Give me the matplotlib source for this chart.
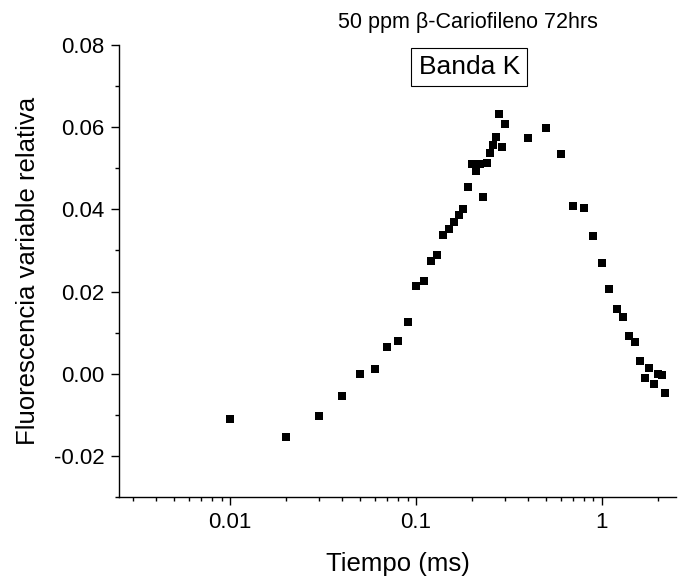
import numpy as np
import matplotlib
matplotlib.use('Agg')
import matplotlib.pyplot as plt
from matplotlib.ticker import FuncFormatter, MultipleLocator, LogLocator

plt.rcParams['font.family'] = ['Liberation Sans', 'DejaVu Sans']

# time (ms) and relative variable fluorescence (K band)
tiempo = [0.01, 0.02, 0.03, 0.04, 0.05, 0.06, 0.07, 0.08, 0.09,
          0.10, 0.11, 0.12, 0.13, 0.14, 0.15, 0.16, 0.17, 0.18, 0.19,
          0.20, 0.21, 0.22, 0.23, 0.24, 0.25, 0.26, 0.27, 0.28, 0.29,
          0.30, 0.40, 0.50, 0.60, 0.70, 0.80, 0.90,
          1.0, 1.1, 1.2, 1.3, 1.4, 1.5, 1.6, 1.7, 1.8, 1.9, 2.0, 2.1, 2.2]
fluor = [-0.0109, -0.0153, -0.0103, -0.0054, 0.0000, 0.0012, 0.0066, 0.0079, 0.0125,
         0.0213, 0.0225, 0.0275, 0.0289, 0.0338, 0.0353, 0.0370, 0.0386, 0.0402, 0.0455,
         0.0510, 0.0493, 0.0510, 0.0430, 0.0514, 0.0537, 0.0556, 0.0576, 0.0632, 0.0553,
         0.0608, 0.0573, 0.0597, 0.0534, 0.0409, 0.0404, 0.0336,
         0.0270, 0.0207, 0.0157, 0.0139, 0.0091, 0.0077, 0.0032, -0.0011, 0.0014,
         -0.0026, -0.0001, -0.0003, -0.0048]

y_ticks = [-0.02, 0.00, 0.02, 0.04, 0.06, 0.08]
x_ticks = [0.01, 0.1, 1]

fig = plt.figure(figsize=(6.86, 5.8), dpi=100)
ax = fig.add_axes([0.1735, 0.1431, 0.812, 0.7793])

ax.plot(tiempo, fluor, linestyle='none', marker='s', markersize=6,
        color='black', markeredgewidth=0)

ax.set_xscale('log')
ax.set_xlim(0.00252, 2.51)
ax.set_ylim(-0.03, 0.08)

ax.set_xticks(x_ticks)
ax.xaxis.set_minor_locator(LogLocator(base=10, subs=np.arange(2, 10)))
ax.xaxis.set_major_formatter(FuncFormatter(lambda v, p: '%g' % v))
ax.xaxis.set_minor_formatter(FuncFormatter(lambda v, p: ''))

ax.set_yticks(y_ticks)
ax.yaxis.set_minor_locator(MultipleLocator(0.01))
ax.yaxis.set_major_formatter(FuncFormatter(lambda v, p: '%.2f' % v))

for s in ['top', 'right']:
    ax.spines[s].set_visible(False)
for s in ['left', 'bottom']:
    ax.spines[s].set_linewidth(1.0)

ax.tick_params(axis='both', which='major', direction='out', length=5.5,
               width=1.0, labelsize=16, pad=5)
ax.tick_params(axis='both', which='minor', direction='out', length=3.2,
               width=1.0)
ax.tick_params(axis='x', which='major', pad=5)

ax.set_xlabel('Tiempo (ms)', fontsize=18.5, labelpad=14)
ax.set_ylabel('Fluorescencia variable relativa', fontsize=18.5, labelpad=10)

fig.text(0.682, 0.962, '50 ppm \u03b2-Cariofileno 72hrs', fontsize=15.5,
         ha='center', va='center')
fig.text(0.684, 0.885, 'Banda K', fontsize=19, ha='center', va='center',
         bbox=dict(boxstyle='square,pad=0.27', facecolor='white',
                   edgecolor='black', linewidth=0.8))

fig.savefig('out.png', dpi=100)
